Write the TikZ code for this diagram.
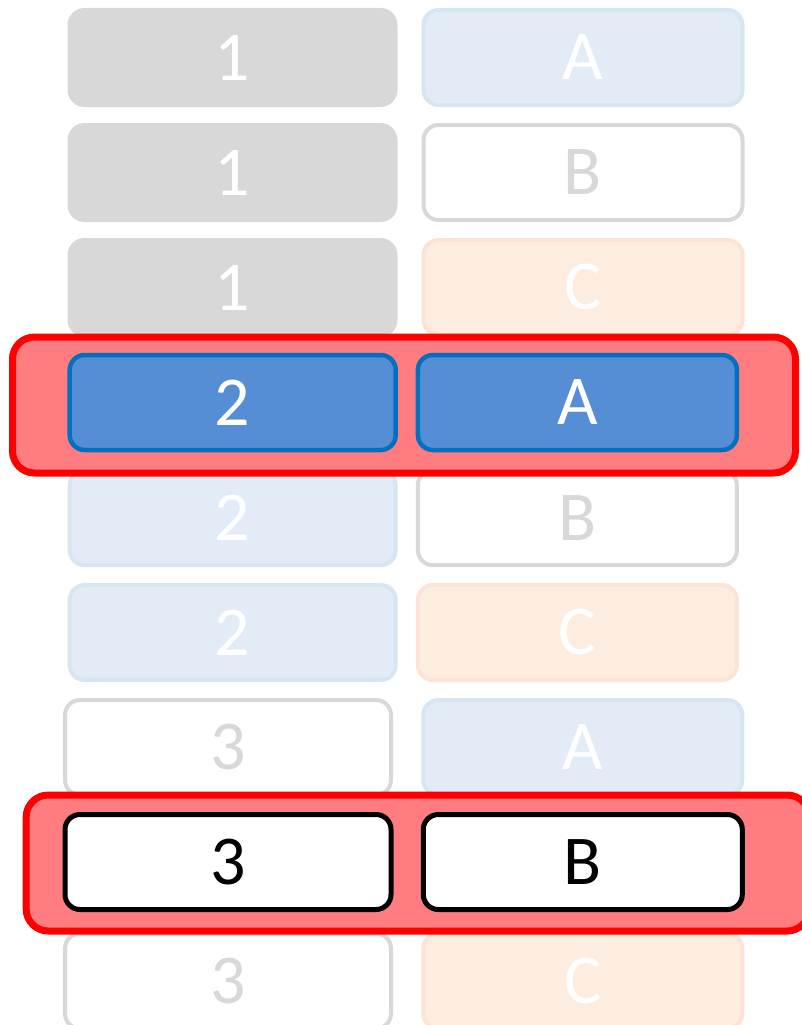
\documentclass[tikz,border=0pt]{standalone}
\usepackage{fontspec}
\setmainfont{Carlito}
\definecolor{cgray}{HTML}{D8D8D8}
\definecolor{lbfill}{HTML}{E3EBF7}
\definecolor{lbline}{HTML}{D6E6F3}
\definecolor{pfill}{HTML}{FDEDE1}
\definecolor{pline}{HTML}{FBE4D5}
\definecolor{hfill}{HTML}{FF7C80}
\definecolor{hline}{HTML}{FF0000}
\definecolor{bfill}{HTML}{558ED5}
\definecolor{bline}{HTML}{0070C0}
\tikzset{
  cell/.style={rounded corners=15pt, minimum width=326pt, minimum height=95pt,
    line width=4pt, inner sep=0pt, font=\fontsize{70}{84}\selectfont},
  rcol/.style={minimum width=319pt},
  graycell/.style={cell, fill=cgray, draw=cgray, text=white},
  lbcell/.style={cell, fill=lbfill, draw=lbline, text=white},
  pcell/.style={cell, fill=pfill, draw=pline, text=white},
  wcell/.style={cell, fill=white, draw=cgray, text=cgray},
  bluecell/.style={cell, fill=bfill, draw=bline, line width=4.5pt, text=white},
  blackcell/.style={cell, fill=white, draw=black, line width=5pt, text=black},
  hilite/.style={rounded corners=22pt, fill=hfill, draw=hline, line width=7pt,
    minimum width=783pt, minimum height=136pt, inner sep=0pt}
}
\begin{document}
\begin{tikzpicture}[x=1pt,y=-1pt]
\useasboundingbox (0,0) rectangle (801,1025);
% rows 1-3
\node[graycell]     (l1) at (232.5,57.5) {1};
\node[lbcell,rcol]  (r1) at (583,57.5) {A};
\node[graycell]     (l2) at (232.5,172.5) {1};
\node[wcell,rcol]   (r2) at (583,172.5) {B};
\node[graycell]     (l3) at (232.5,287.5) {1};
\node[pcell,rcol]   (r3) at (583,287.5) {C};
% rows 5-6
\node[lbcell]       (l5) at (232.7,517.7) {2};
\node[wcell,rcol]   (r5) at (577.4,517.7) {B};
\node[lbcell]       (l6) at (232.7,632.5) {2};
\node[pcell,rcol]   (r6) at (577.4,632.5) {C};
% rows 7, 9
\node[wcell]        (l7) at (228,747.5) {3};
\node[lbcell,rcol]  (r7) at (582.8,747.5) {A};
\node[wcell]        (l9) at (228,981) {3};
\node[pcell,rcol]   (r9) at (582.8,981) {C};
% highlights
\node[hilite] (h1) at (404,405) {};
\node[hilite] (h2) at (417.7,863) {};
\node[bluecell]       (l4) at (232.7,402.5) {2};
\node[bluecell,rcol]  (r4) at (577.4,402.5) {A};
\node[blackcell]      (l8) at (228,862) {3};
\node[blackcell,rcol] (r8) at (582.8,862) {B};
\end{tikzpicture}
\end{document}
